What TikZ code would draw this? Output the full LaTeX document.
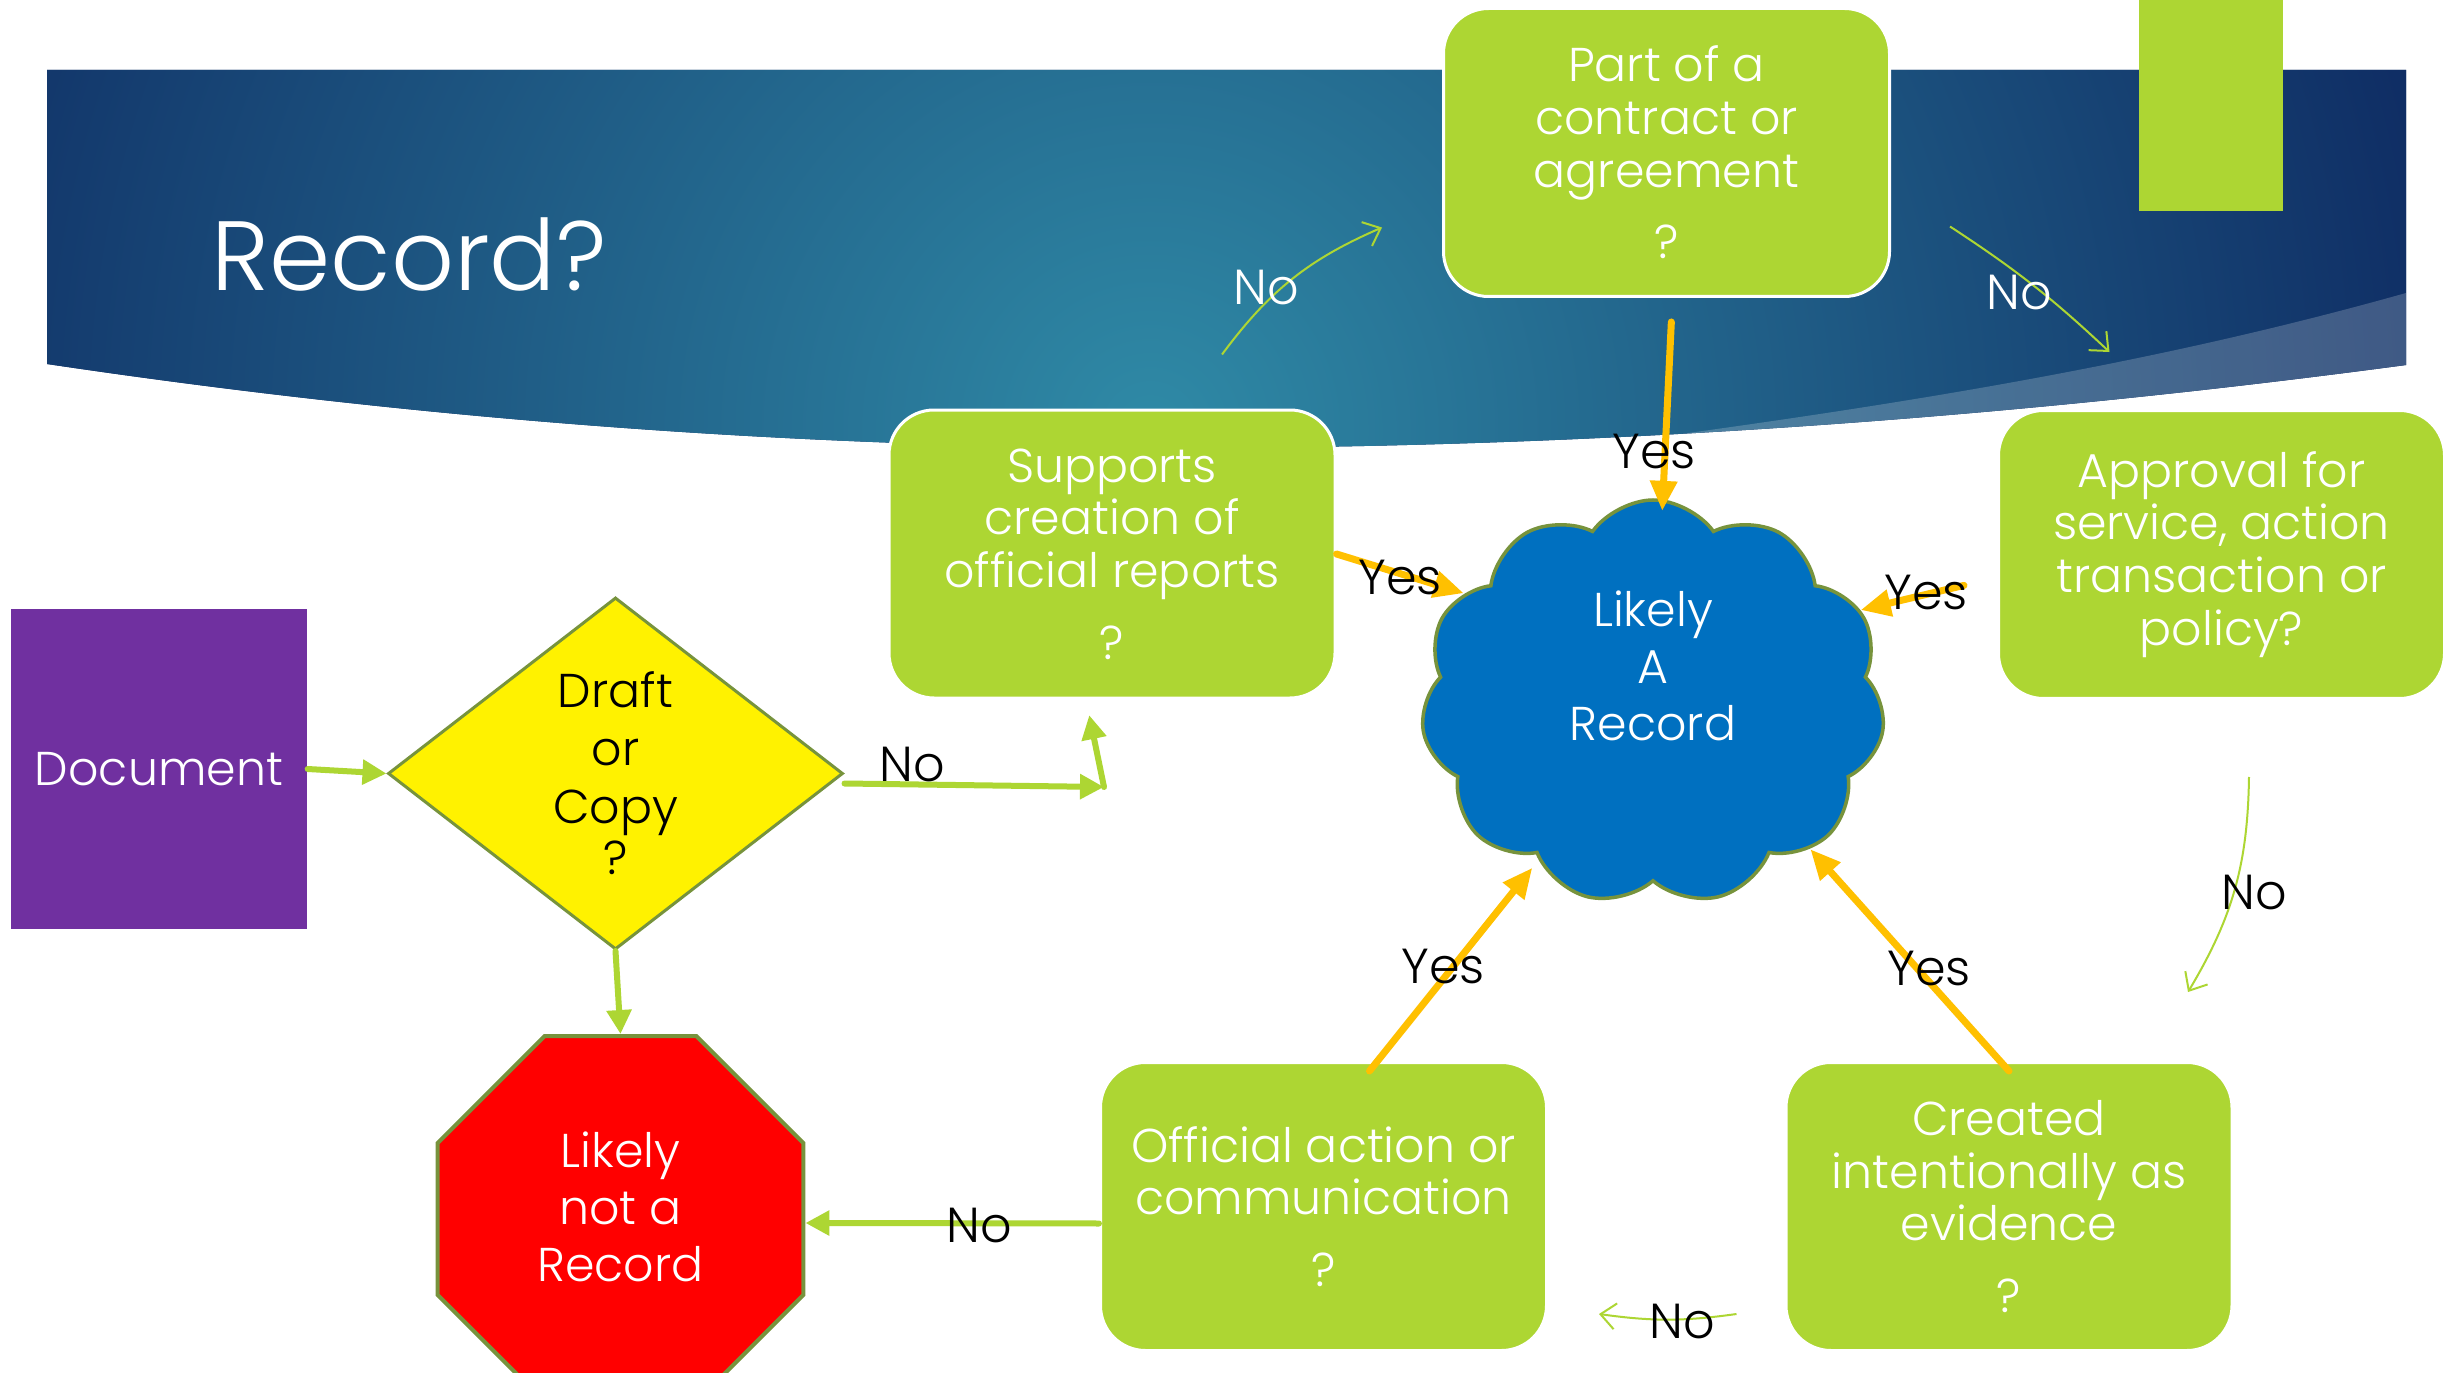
\documentclass[tikz,border=0pt]{standalone}
\usepackage{fontspec}
\setmainfont{Poppins}[UprightFont=* Light]
\usetikzlibrary{shapes.geometric,shapes.symbols,arrows.meta,positioning}
\definecolor{boxgreen}{RGB}{173,214,51}
\definecolor{edgegreen}{RGB}{119,147,60}
\definecolor{amber}{RGB}{255,192,0}
\definecolor{bannerdark}{RGB}{14,42,98}
\definecolor{bannerlight}{RGB}{47,138,166}
\definecolor{docpurple}{RGB}{112,48,160}
\definecolor{cloudblue}{RGB}{0,112,192}
\tikzset {
question/.style={shape=rectangle,rounded corners=4.5mm,draw=white,line width=0.3mm,fill=boxgreen,text=white,align=center,minimum width=44.6mm,minimum height=28.8mm,font=\fontsize{13.5}{15}\selectfont},
docbox/.style={shape=rectangle,fill=docpurple,text=white,minimum width=29.6mm,minimum height=32mm,font=\fontsize{13.5}{15}\selectfont},
decision/.style={shape=diamond,draw=edgegreen,line width=0.3mm,fill=yellow,align=center,minimum width=45.5mm,minimum height=35.2mm,inner sep=0,aspect=1.3,font=\fontsize{13.5}{16.4}\selectfont},
halt/.style={shape=regular polygon,regular polygon sides=8,draw=edgegreen,line width=0.4mm,fill=red,text=white,align=center,inner sep=0,text depth=2.4mm,minimum size=39.6mm,font=\fontsize{13.5}{16.2}\selectfont},
record/.style={shape=cloud,cloud puffs=11,cloud puff arc=110,cloud ignores aspect,draw=edgegreen,line width=0.35mm,fill=cloudblue,text=white,align=center,text depth=7.4mm,minimum width=46.4mm,minimum height=40.5mm,font=\fontsize{13.5}{16.2}\selectfont},
accent/.style={shape=rectangle,fill=boxgreen,inner sep=0,minimum width=14.4mm,minimum height=21.1mm},
answer/.style={font=\fontsize{14}{16}\selectfont,inner sep=0},
flow/.style={->,draw=boxgreen,line width=0.6mm,line cap=round},
yesarrow/.style={-{Triangle[length=3mm,width=2.6mm]},draw=amber,line width=0.7mm,line cap=round},
noarrow/.style={-{Straight Barb[length=1.5mm,width=2.6mm]},draw=boxgreen,line width=0.2mm}
}
\begin{document}
\begin{tikzpicture}
[x=0.1mm,y=-0.1mm,>={Triangle[length=2.4mm,width=2.4mm]}]
\useasboundingbox (0,0) rectangle (2453,1373);
\fill[white] (0,0) rectangle (2453,1373);
\begin{scope}
\clip (47,70) -- (2406,70) -- (2406,365) .. controls (1995,420) and (1585,448) .. (1174,448) .. controls (798,448) and (423,420) .. (47,364) -- cycle;
\fill[bannerdark] (0,0) rectangle (2453,500);
\shade[inner color=bannerlight,outer color=bannerdark] (1150,430) circle [radius=1350];
\fill[white,opacity=0.2] (1600,445) .. controls (1900,405) and (2150,365) .. (2406,293) -- (2406,500) -- (1600,500) -- cycle;
\end{scope}
\node (title) at (211,254) [anchor=west,text=white,inner sep=0,font=\fontsize{28}{30}\selectfont] {Record?};
\node (tab) at (2211,105.5) [accent] {};
\node (doc) at (159,769) [docbox] {Document};
\node (dec) at (615.5,773.5) [decision] {Draft\\or\\Copy\\[-0.6mm]?};
\node (stop) at (620.5,1219) [halt] {Likely\\not a\\Record};
\node (rec) at (1653,702.5) [record] {Likely\\A\\Record};
\node (q1) at (1112,554) [question] {Supports\\creation of\\official reports\\[1.9mm]?};
\node (q2) at (1666.5,152.5) [question] {Part of a\\contract or\\agreement\\[1.9mm]?};
\node (q3) at (2221.5,554.5) [question] {Approval for\\service, action\\transaction or\\policy?};
\node (q4) at (2009,1206.5) [question] {Created\\intentionally as\\evidence\\[1.9mm]?};
\node (q5) at (1323.5,1206.5) [question] {Official action or\\communication\\[1.9mm]?};
\coordinate (elbow) at (1104,787);
\draw[flow] (doc.east) -- (dec.west);
\draw[flow] ([yshift=-1mm]dec.east) -- (elbow);
\draw[flow,shorten >=1.6mm] (elbow) -- ([xshift=-2.6mm]q1.south);
\node (no1) at (912,764) [answer] {No};
\draw[flow] (dec.south) -- (stop.north);
\draw[flow] ([yshift=-1.7mm]q5.west) -- ([yshift=-0.4mm]stop.east);
\node (no2) at (979,1225) [answer] {No};
\draw[yesarrow,shorten <=2.4mm,shorten >=-1.2mm] ([xshift=0.6mm]q2.south) -- (rec);
\node (yes1) at (1654,452) [answer] {Yes};
\draw[yesarrow] (q1.east) -- (rec.150);
\node (yes2) at (1400,578) [answer] {Yes};
\draw[yesarrow,shorten <=3.4mm] ([yshift=-2.3mm]q3.west) -- (rec.24);
\node (yes3) at (1926,593) [answer] {Yes};
\draw[yesarrow,shorten >=1mm] ([xshift=4.6mm,yshift=-1mm]q5.north) -- (rec.234);
\node (yes4) at (1443,966) [answer] {Yes};
\draw[yesarrow] ([yshift=-1mm]q4.north) -- (rec.317);
\node (yes5) at (1929,968) [answer] {Yes};
\draw[noarrow] ([xshift=11mm,yshift=5.4mm]q1.north) to[bend left=15] ([xshift=-6mm,yshift=-7.5mm]q2.west);
\node (no3) at (1266,288) [answer,text=white] {No};
\draw[noarrow] ([xshift=5.9mm,yshift=-7.4mm]q2.east) to[bend left=5] ([xshift=-11.2mm,yshift=5.7mm]q3.north);
\node (no4) at (2019,292) [answer,text=white] {No};
\draw[noarrow] ([xshift=2.75mm,yshift=-7.7mm]q3.south) to[bend left=15] ([xshift=17.9mm,yshift=6.9mm]q4.north);
\node (no5) at (2254,892) [answer] {No};
\draw[noarrow] ([xshift=-4.8mm,yshift=-10.75mm]q4.west) to[bend left=8] ([xshift=5.1mm,yshift=-10.75mm]q5.east);
\node (no6) at (1682,1321) [answer] {No};
\end{tikzpicture}
\end{document}
